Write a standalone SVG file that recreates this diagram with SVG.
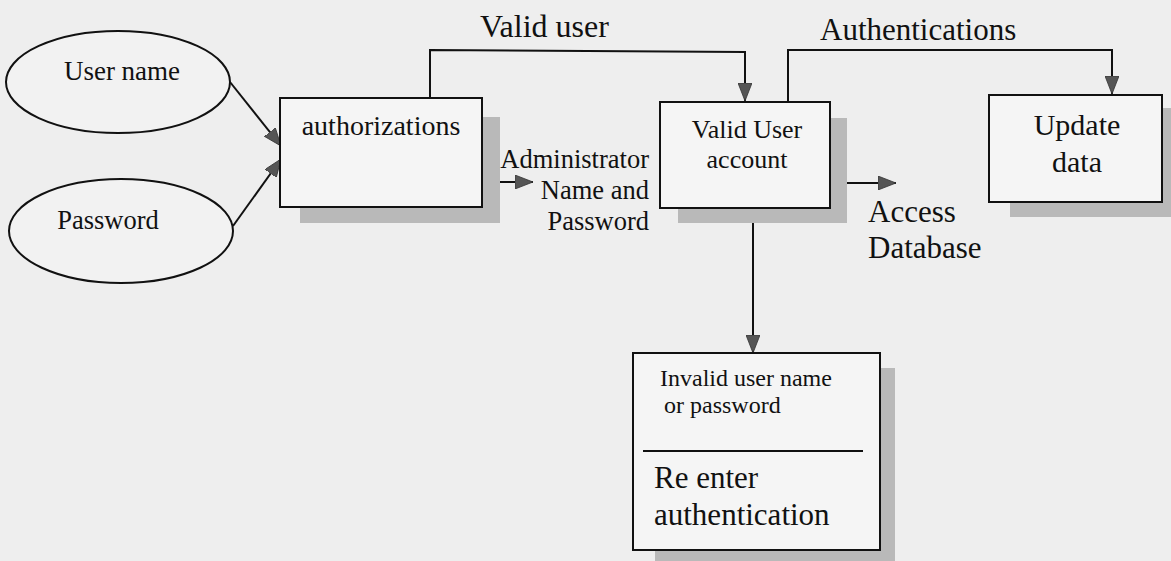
<svg xmlns="http://www.w3.org/2000/svg" width="1171" height="561" viewBox="0 0 1171 561">
<defs>
<style>
.bg{fill:#eeeeee}
.box{fill:#f5f5f5;stroke:#111;stroke-width:2}
.sh{fill:#b9b9b9}
.ell{fill:#f2f2f2;stroke:#111;stroke-width:2}
.ln{fill:none;stroke:#111;stroke-width:2}
text{font-family:"Liberation Serif","Times New Roman",serif;fill:#111}
</style>
<marker id="ah" viewBox="0 0 18 14" refX="18" refY="7" markerWidth="18" markerHeight="14" markerUnits="userSpaceOnUse" orient="auto">
<path d="M0,0 L18,7 L0,14 Z" fill="#555" stroke="#333" stroke-width="0.8"/>
</marker>
</defs>
<rect class="bg" x="0" y="0" width="1171" height="561"/>

<g id="connectors">
<path class="ln" d="M230,82 L281,146" marker-end="url(#ah)"/>
<path class="ln" d="M233,226 L281,159" marker-end="url(#ah)"/>
<path class="ln" d="M430,98 L430,50 L745,52 L745,101" marker-end="url(#ah)"/>
<path class="ln" d="M482,182 L533,182" marker-end="url(#ah)"/>
<path class="ln" d="M788,102 L788,50 L1112,50 L1112,94" marker-end="url(#ah)"/>
<path class="ln" d="M830,183 L896,183" marker-end="url(#ah)"/>
<path class="ln" d="M753,208 L753,353" marker-end="url(#ah)"/>
</g>

<g id="user-name">
<ellipse class="ell" cx="118" cy="82" rx="112" ry="51"/>
<text x="122" y="80" font-size="27" text-anchor="middle">User name</text>
</g>

<g id="password">
<ellipse class="ell" cx="121" cy="231" rx="112" ry="52"/>
<text x="108" y="229" font-size="26.5" text-anchor="middle">Password</text>
</g>

<g id="authorizations">
<rect class="sh" x="300" y="117" width="200" height="106"/>
<rect class="box" x="280" y="98" width="202" height="109"/>
<text x="381" y="135" font-size="28" text-anchor="middle">authorizations</text>
</g>

<g id="admin-label">
<text font-size="26.5" text-anchor="end"><tspan x="649" y="168">Administrator</tspan><tspan x="649" y="199">Name and</tspan><tspan x="649" y="230">Password</tspan></text>
</g>

<g id="valid-user-label">
<text x="480" y="37" font-size="32">Valid user</text>
</g>

<g id="valid-user-account">
<rect class="sh" x="678" y="118" width="169" height="105"/>
<rect class="box" x="660" y="102" width="170" height="106"/>
<text font-size="26" text-anchor="middle"><tspan x="747" y="138">Valid User</tspan><tspan x="747" y="168">account</tspan></text>
</g>

<g id="authentications-label">
<text x="820" y="40" font-size="31">Authentications</text>
</g>

<g id="update-data">
<rect class="sh" x="1010" y="108" width="170" height="109"/>
<rect class="box" x="989" y="95" width="173" height="107"/>
<text font-size="30" text-anchor="middle"><tspan x="1077" y="135">Update</tspan><tspan x="1077" y="172">data</tspan></text>
</g>

<g id="access-database">
<text font-size="31"><tspan x="868" y="222">Access</tspan><tspan x="868" y="258">Database</tspan></text>
</g>

<g id="invalid-box">
<rect class="sh" x="655" y="368" width="240" height="200"/>
<rect class="box" x="633" y="353" width="247" height="197"/>
<line class="ln" x1="643" y1="451" x2="863" y2="451"/>
<text font-size="24"><tspan x="660" y="386">Invalid user name</tspan><tspan x="664" y="413">or password</tspan></text>
<text font-size="31"><tspan x="654" y="488">Re enter</tspan><tspan x="654" y="525">authentication</tspan></text>
</g>
</svg>
